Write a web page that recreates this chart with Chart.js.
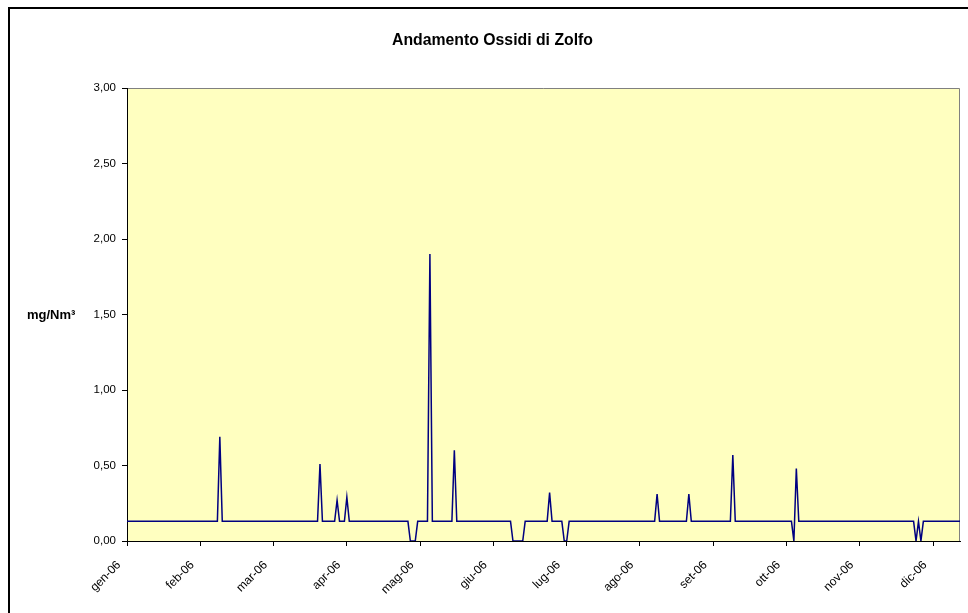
<!DOCTYPE html>
<html>
<head>
<meta charset="utf-8">
<script src="https://cdn.jsdelivr.net/npm/chart.js@4.4.1/dist/chart.umd.min.js"></script>
<style>
html,body{margin:0;padding:0;background:#fff;overflow:hidden}
canvas{display:block}
</style>
</head>
<body>
<canvas id="c" width="968" height="613"></canvas>
<script>
const chartTitle = 'Andamento Ossidi di Zolfo';
const yAxisTitle = 'mg/Nm\u00B3';
const tickLabels = ['gen-06','feb-06','mar-06','apr-06','mag-06','giu-06','lug-06','ago-06','set-06','ott-06','nov-06','dic-06'];
const tickEvery = 30;
const yTicks = [0, 0.5, 1, 1.5, 2, 2.5, 3];
const values = [
  0.13,0.13,0.13,0.13,0.13,0.13,0.13,0.13,0.13,0.13, 0.13,0.13,0.13,0.13,0.13,0.13,0.13,0.13,0.13,0.13, 0.13,0.13,0.13,0.13,0.13,0.13,0.13,0.13,0.13,0.13,
  0.13,0.13,0.13,0.13,0.13,0.13,0.13,0.13,0.69,0.13, 0.13,0.13,0.13,0.13,0.13,0.13,0.13,0.13,0.13,0.13, 0.13,0.13,0.13,0.13,0.13,0.13,0.13,0.13,0.13,0.13,
  0.13,0.13,0.13,0.13,0.13,0.13,0.13,0.13,0.13,0.13, 0.13,0.13,0.13,0.13,0.13,0.13,0.13,0.13,0.13,0.51, 0.13,0.13,0.13,0.13,0.13,0.13,0.27,0.13,0.13,0.13,
  0.29,0.13,0.13,0.13,0.13,0.13,0.13,0.13,0.13,0.13, 0.13,0.13,0.13,0.13,0.13,0.13,0.13,0.13,0.13,0.13, 0.13,0.13,0.13,0.13,0.13,0.13,0,0,0,0.13,
  0.13,0.13,0.13,0.13,1.90,0.13,0.13,0.13,0.13,0.13, 0.13,0.13,0.13,0.13,0.60,0.13,0.13,0.13,0.13,0.13, 0.13,0.13,0.13,0.13,0.13,0.13,0.13,0.13,0.13,0.13,
  0.13,0.13,0.13,0.13,0.13,0.13,0.13,0.13,0,0, 0,0,0,0.13,0.13,0.13,0.13,0.13,0.13,0.13, 0.13,0.13,0.13,0.32,0.13,0.13,0.13,0.13,0.13,0,
  0,0.13,0.13,0.13,0.13,0.13,0.13,0.13,0.13,0.13, 0.13,0.13,0.13,0.13,0.13,0.13,0.13,0.13,0.13,0.13, 0.13,0.13,0.13,0.13,0.13,0.13,0.13,0.13,0.13,0.13,
  0.13,0.13,0.13,0.13,0.13,0.13,0.13,0.31,0.13,0.13, 0.13,0.13,0.13,0.13,0.13,0.13,0.13,0.13,0.13,0.13, 0.31,0.13,0.13,0.13,0.13,0.13,0.13,0.13,0.13,0.13,
  0.13,0.13,0.13,0.13,0.13,0.13,0.13,0.13,0.57,0.13, 0.13,0.13,0.13,0.13,0.13,0.13,0.13,0.13,0.13,0.13, 0.13,0.13,0.13,0.13,0.13,0.13,0.13,0.13,0.13,0.13,
  0.13,0.13,0.13,0,0.48,0.13,0.13,0.13,0.13,0.13, 0.13,0.13,0.13,0.13,0.13,0.13,0.13,0.13,0.13,0.13, 0.13,0.13,0.13,0.13,0.13,0.13,0.13,0.13,0.13,0.13,
  0.13,0.13,0.13,0.13,0.13,0.13,0.13,0.13,0.13,0.13, 0.13,0.13,0.13,0.13,0.13,0.13,0.13,0.13,0.13,0.13, 0.13,0.13,0.13,0,0.13,0,0.13,0.13,0.13,0.13,
  0.13,0.13,0.13,0.13,0.13,0.13,0.13,0.13,0.13,0.13, 0.13,0.13
];

const FONT = 'Arial, "Liberation Sans", sans-serif';

const framePlugin = {
  id: 'frame',
  beforeDraw(chart) {
    const { ctx, chartArea: a } = chart;
    ctx.save();
    ctx.fillStyle = '#ffffff';
    ctx.fillRect(0, 0, chart.width, chart.height);
    ctx.fillStyle = '#FFFFC0';
    ctx.fillRect(a.left, a.top, a.right - a.left, a.bottom - a.top);
    ctx.strokeStyle = '#808080';
    ctx.lineWidth = 1;
    ctx.beginPath();
    ctx.moveTo(a.left, a.top + 0.5);
    ctx.lineTo(a.right - 0.5, a.top + 0.5);
    ctx.lineTo(a.right - 0.5, a.bottom);
    ctx.stroke();
    ctx.restore();
  },
  afterDraw(chart) {
    const ctx = chart.ctx;
    ctx.save();
    ctx.strokeStyle = '#000';
    ctx.lineWidth = 2;
    ctx.strokeRect(9, 8, 968, 700);
    ctx.fillStyle = '#000';
    ctx.font = 'bold 15.8px ' + FONT;
    ctx.textAlign = 'center';
    ctx.textBaseline = 'alphabetic';
    ctx.fillText(chartTitle, 492.5, 45);
    ctx.font = 'bold 13px ' + FONT;
    ctx.textAlign = 'left';
    ctx.textBaseline = 'middle';
    ctx.fillText(yAxisTitle, 27, 315);
    ctx.restore();
  }
};

new Chart(document.getElementById('c'), {
  type: 'line',
  data: {
    datasets: [{
      data: values.map((v, i) => ({ x: i, y: v })),
      borderColor: '#000080',
      borderWidth: 1.5,
      pointRadius: 0,
      tension: 0,
      fill: false
    }]
  },
  options: {
    responsive: false,
    animation: false,
    devicePixelRatio: 1,
    layout: { padding: { top: 88, right: 8, left: 0, bottom: 0 } },
    plugins: { legend: { display: false }, tooltip: { enabled: false }, title: { display: false } },
    scales: {
      x: {
        type: 'linear',
        min: 0,
        max: values.length - 1,
        afterBuildTicks(ax) { ax.ticks = tickLabels.map((_, i) => ({ value: i * tickEvery })); },
        afterFit(ax) { ax.height = 72; },
        grid: { drawOnChartArea: false, drawTicks: true, tickLength: 5, tickColor: '#000' },
        border: { display: true, color: '#000', width: 1 },
        ticks: {
          autoSkip: false, minRotation: 45, maxRotation: 45, padding: 12, labelOffset: -8, color: '#000',
          font: { family: FONT, size: 12 },
          callback: (v) => tickLabels[Math.round(v / tickEvery)] ?? ''
        }
      },
      y: {
        min: 0,
        max: 3,
        afterBuildTicks(ax) { ax.ticks = yTicks.map(v => ({ value: v })); },
        afterFit(ax) { ax.width = 127; },
        grid: { drawOnChartArea: false, drawTicks: true, tickLength: 5, tickColor: '#000' },
        border: { display: true, color: '#000', width: 1 },
        ticks: {
          padding: 6, color: '#000',
          font: { family: FONT, size: 11.5 },
          callback: (v) => Number(v).toFixed(2).replace('.', ',')
        }
      }
    }
  },
  plugins: [framePlugin]
});
</script>
</body>
</html>
